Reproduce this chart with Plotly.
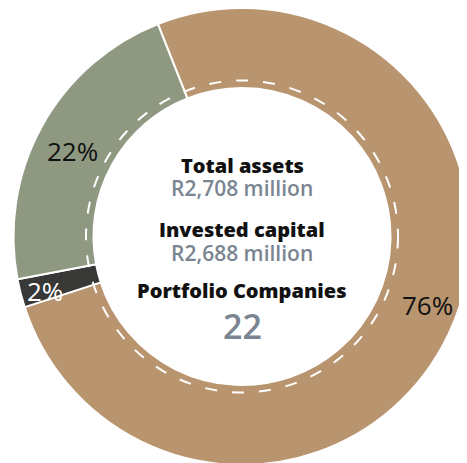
import math
import plotly.graph_objects as go

# slice data (clockwise from the green/tan boundary)
labels = ["Other investments", "Cash", "Portfolio companies"]
values = [76, 2, 22]
colors = ["#b8946f", "#383836", "#8f9982"]
text_colors = ["#111111", "#ffffff", "#111111"]

# centre text
centre_lines = ["Total assets", "R2,708 million", "Invested capital", "R2,688 million",
                "Portfolio Companies", "22"]

W, H = 467, 463
# page body adds an 8px offset, so the pie is pushed up/left to compensate
dom_x = [5 / W, 463 / W]
dom_y = [6 / H, 1.0]
cx = (dom_x[0] + dom_x[1]) / 2
cy = (dom_y[0] + dom_y[1]) / 2
rotation = -21.6

fig = go.Figure()

fig.add_trace(go.Pie(
    labels=labels, values=values, sort=False, direction="clockwise", rotation=rotation,
    hole=0.65, domain=dict(x=dom_x, y=dom_y),
    marker=dict(colors=colors, line=dict(color="white", width=2)),
    textinfo="none", hoverinfo="skip", showlegend=False,
))

# dashed white ring inside the donut
fig.add_shape(type="circle", xref="paper", yref="paper",
              xsizemode="pixel", ysizemode="pixel", xanchor=cx, yanchor=cy,
              x0=-156, x1=156, y0=-156, y1=156,
              line=dict(color="white", width=2, dash="12px,15px"), layer="above")

# percentage labels placed around the ring at each slice's mid angle
label_r = [198, 204, 190]
label_nudge = [-5, -1, -2]  # degrees
total = sum(values)
start = rotation
for v, col, r, nudge in zip(values, text_colors, label_r, label_nudge):
    sweep = 360 * v / total
    ang = math.radians(start + sweep / 2 + nudge)
    start += sweep
    fig.add_annotation(text=f"{v}%", xref="paper", yref="paper", x=cx, y=cy,
                       xshift=r * math.sin(ang), yshift=r * math.cos(ang),
                       showarrow=False, xanchor="center", yanchor="middle",
                       font=dict(family="Open Sans", size=26, color=col, weight=500))

# centre annotations: (pixel offset from centre, size, colour, weight)
styles = [(-71, 20, "#111111", 800), (-48, 21, "#7a8591", 600),
          (-7, 20, "#111111", 800), (17, 21, "#7a8591", 600),
          (54, 20, "#111111", 800), (89, 34, "#7a8591", 600)]
for txt, (dy, sz, col, wt) in zip(centre_lines, styles):
    fig.add_annotation(text=txt, xref="paper", yref="paper", x=cx, y=cy,
                       yshift=-dy, showarrow=False, xanchor="center", yanchor="middle",
                       borderpad=0,
                       font=dict(family="Open Sans", size=sz, color=col, weight=wt))

fig.update_layout(width=W, height=H, margin=dict(l=0, r=0, t=0, b=0),
                  paper_bgcolor="white", plot_bgcolor="white")

fig.write_html("out.html")
